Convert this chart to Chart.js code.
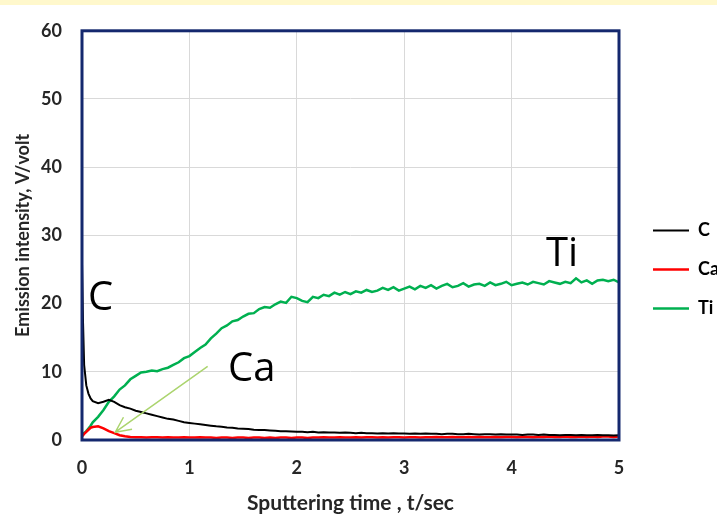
<!DOCTYPE html>
<html>
<head>
<meta charset="utf-8">
<script src="https://cdn.jsdelivr.net/npm/chart.js@4/dist/chart.umd.min.js"></script>
<style>
  body { margin: 0; background: linear-gradient(#fff8cc 0, #fff8cc 5px, #ffffff 5px); }
  #wrap { width: 717px; height: 516px; }
</style>
</head>
<body>
<div id="wrap"><canvas id="chart" width="717" height="516"></canvas></div>
<script>
// sputtering time, t/sec
const times = [0, 0.01, 0.02, 0.04, 0.06, 0.08, 0.1,
  0.15, 0.2, 0.25, 0.3, 0.35, 0.4, 0.45, 0.5, 0.55, 0.6,
  0.65, 0.7, 0.75, 0.8, 0.85, 0.9, 0.95, 1.0, 1.05, 1.1,
  1.15, 1.2, 1.25, 1.3, 1.35, 1.4, 1.45, 1.5, 1.55, 1.6,
  1.65, 1.7, 1.75, 1.8, 1.85, 1.9, 1.95, 2.0, 2.05, 2.1,
  2.15, 2.2, 2.25, 2.3, 2.35, 2.4, 2.45, 2.5, 2.55, 2.6,
  2.65, 2.7, 2.75, 2.8, 2.85, 2.9, 2.95, 3.0, 3.05, 3.1,
  3.15, 3.2, 3.25, 3.3, 3.35, 3.4, 3.45, 3.5, 3.55, 3.6,
  3.65, 3.7, 3.75, 3.8, 3.85, 3.9, 3.95, 4.0, 4.05, 4.1,
  4.15, 4.2, 4.25, 4.3, 4.35, 4.4, 4.45, 4.5, 4.55, 4.6,
  4.65, 4.7, 4.75, 4.8, 4.85, 4.9, 4.95, 5.0];

// emission intensity, V/volt
const cValues = [26, 17, 11, 8.0, 6.8, 6.1, 5.7,
  5.4, 5.6, 5.9, 5.6, 5.1, 4.8, 4.6, 4.3, 4.1, 3.9,
  3.7, 3.5, 3.3, 3.1, 3.0, 2.8, 2.6, 2.5, 2.4, 2.3,
  2.2, 2.1, 2.0, 1.95, 1.85, 1.8, 1.7, 1.65, 1.6, 1.5,
  1.45, 1.45, 1.4, 1.35, 1.3, 1.3, 1.25, 1.2, 1.2, 1.15,
  1.2, 1.1, 1.15, 1.1, 1.1, 1.05, 1.1, 1.05, 1.0, 1.05,
  1.0, 1.0, 0.95, 1.0, 0.95, 1.0, 0.95, 0.95, 0.9, 0.95,
  0.9, 0.95, 0.9, 0.9, 0.85, 0.9, 0.9, 0.85, 0.85, 0.9,
  0.85, 0.8, 0.85, 0.85, 0.8, 0.85, 0.8, 0.8, 0.8, 0.75,
  0.8, 0.8, 0.75, 0.8, 0.75, 0.75, 0.7, 0.75, 0.75, 0.7,
  0.75, 0.7, 0.7, 0.75, 0.7, 0.7, 0.65, 0.7];

const caValues = [0.5, 0.7, 0.9, 1.2, 1.5, 1.8, 1.9,
  2.0, 1.7, 1.3, 1.0, 0.7, 0.55, 0.45, 0.4, 0.4, 0.35,
  0.4, 0.4, 0.35, 0.4, 0.35, 0.35, 0.4, 0.35, 0.35, 0.4,
  0.35, 0.35, 0.3, 0.35, 0.35, 0.3, 0.35, 0.35, 0.3, 0.35,
  0.35, 0.3, 0.35, 0.3, 0.35, 0.35, 0.3, 0.35, 0.35, 0.3,
  0.35, 0.35, 0.4, 0.35, 0.35, 0.4, 0.35, 0.35, 0.4, 0.35,
  0.4, 0.4, 0.35, 0.4, 0.35, 0.4, 0.4, 0.35, 0.4, 0.4,
  0.35, 0.4, 0.4, 0.45, 0.4, 0.4, 0.45, 0.4, 0.4, 0.45,
  0.4, 0.45, 0.4, 0.4, 0.45, 0.4, 0.45, 0.45, 0.4, 0.45,
  0.45, 0.4, 0.45, 0.45, 0.5, 0.45, 0.45, 0.5, 0.45, 0.45,
  0.5, 0.45, 0.5, 0.45, 0.5, 0.5, 0.45, 0.5];

const tiValues = [0.7, 0.9, 1.0, 1.3, 1.7, 2.1, 2.6,
  3.4, 4.4, 5.6, 6.4, 7.4, 8.0, 8.9, 9.4, 9.9, 10.0,
  10.2, 10.1, 10.4, 10.6, 11.0, 11.4, 12.0, 12.3, 12.9, 13.5,
  14.0, 14.9, 15.6, 16.4, 16.8, 17.4, 17.6, 18.1, 18.5, 18.6,
  19.2, 19.5, 19.4, 19.9, 20.3, 20.1, 21.0, 20.8, 20.4, 20.2,
  21.0, 20.8, 21.3, 21.1, 21.6, 21.3, 21.7, 21.4, 21.8, 21.6,
  22.0, 21.7, 21.9, 22.3, 22.0, 22.4, 21.9, 22.2, 22.5, 22.1,
  22.6, 22.3, 22.7, 22.2, 22.6, 22.9, 22.4, 22.6, 23.0, 22.5,
  22.8, 22.9, 22.6, 23.1, 22.7, 22.9, 23.2, 22.7, 22.9, 23.1,
  22.8, 23.2, 23.0, 22.8, 23.3, 23.1, 22.9, 23.2, 23.0, 23.7,
  23.1, 23.4, 22.9, 23.4, 23.5, 23.3, 23.5, 23.1];

const seriesNames = ['C', 'Ca', 'Ti'];
const seriesColors = ['#000000', '#ff0000', '#00b050'];

// big labels on the plot, in data units (left x, baseline y)
const noteTexts = ['C', 'Ca', 'Ti'];
const noteX = [0.055, 1.36, 4.32];
const noteY = [19.0, 8.6, 25.5];
// arrow from the Ca label to the Ca peak
const arrowFrom = [1.17, 10.8];
const arrowTo = [0.31, 1.15];

function points(vals) {
  return times.map((t, i) => ({x: t, y: vals[i]}));
}

const tickFont = {family: 'Lato', size: 18, weight: 'bold'};

const frameAndNotes = {
  id: 'frameAndNotes',
  afterDatasetsDraw(chart) {
    const ctx = chart.ctx;
    const a = chart.chartArea;
    const xs = chart.scales.x, ys = chart.scales.y;
    ctx.save();
    ctx.strokeStyle = '#14286e';
    ctx.lineWidth = 3;
    ctx.strokeRect(a.left, a.top, a.right - a.left, a.bottom - a.top);

    ctx.fillStyle = '#000';
    ctx.font = '40px "Open Sans"';
    ctx.textBaseline = 'alphabetic';
    ctx.textAlign = 'left';
    noteTexts.forEach((t, i) => {
      ctx.fillText(t, xs.getPixelForValue(noteX[i]), ys.getPixelForValue(noteY[i]));
    });

    const x1 = xs.getPixelForValue(arrowFrom[0]), y1 = ys.getPixelForValue(arrowFrom[1]);
    const x2 = xs.getPixelForValue(arrowTo[0]), y2 = ys.getPixelForValue(arrowTo[1]);
    const ang = Math.atan2(y2 - y1, x2 - x1);
    const head = 17;
    ctx.strokeStyle = '#abd46e';
    ctx.lineWidth = 1.5;
    ctx.beginPath();
    ctx.moveTo(x1, y1);
    ctx.lineTo(x2, y2);
    ctx.moveTo(x2 - head * Math.cos(ang - 0.45), y2 - head * Math.sin(ang - 0.45));
    ctx.lineTo(x2, y2);
    ctx.lineTo(x2 - head * Math.cos(ang + 0.45), y2 - head * Math.sin(ang + 0.45));
    ctx.stroke();
    ctx.restore();
  }
};

new Chart(document.getElementById('chart'), {
  type: 'line',
  data: {
    datasets: [cValues, caValues, tiValues].map((v, i) => ({
      label: seriesNames[i],
      data: points(v),
      borderColor: seriesColors[i],
      backgroundColor: seriesColors[i],
      borderWidth: i === 0 ? 2 : 2.5,
      pointRadius: 0,
      tension: 0
    }))
  },
  options: {
    responsive: false,
    animation: false,
    devicePixelRatio: 1,
    layout: {padding: {top: 23, left: 0, right: 0, bottom: 0}},
    scales: {
      x: {
        type: 'linear', min: 0, max: 5,
        ticks: {stepSize: 1, font: tickFont, color: '#262626', padding: 17},
        grid: {color: '#d9d9d9', drawTicks: false},
        border: {display: false},
        title: {display: true, text: 'Sputtering time , t/sec', font: {family: 'Lato', size: 21, weight: 'bold'}, color: '#262626', padding: {top: 0, bottom: 0}},
        afterFit(s) { s.height = 76; }
      },
      y: {
        min: 0, max: 60,
        ticks: {stepSize: 10, font: tickFont, color: '#262626', padding: 20},
        grid: {color: '#d9d9d9', drawTicks: false},
        border: {display: false},
        title: {display: true, text: 'Emission intensity, V/volt', font: {family: 'Lato', size: 18, weight: 'bold'}, color: '#262626', padding: {top: 12, bottom: 0}},
        afterFit(s) { s.width = 82; }
      },
      y2: {
        position: 'right', display: true,
        grid: {display: false}, border: {display: false}, ticks: {display: false},
        afterFit(s) { s.width = 13; }
      }
    },
    plugins: {
      legend: {
        position: 'right',
        maxWidth: 85,
        labels: {
          usePointStyle: true, pointStyle: 'line', pointStyleWidth: 36,
          padding: 21, color: '#000',
          font: {family: 'Lato', size: 18, weight: 'bold'}
        }
      },
      tooltip: {enabled: false}
    }
  },
  plugins: [frameAndNotes]
});
</script>
</body>
</html>
